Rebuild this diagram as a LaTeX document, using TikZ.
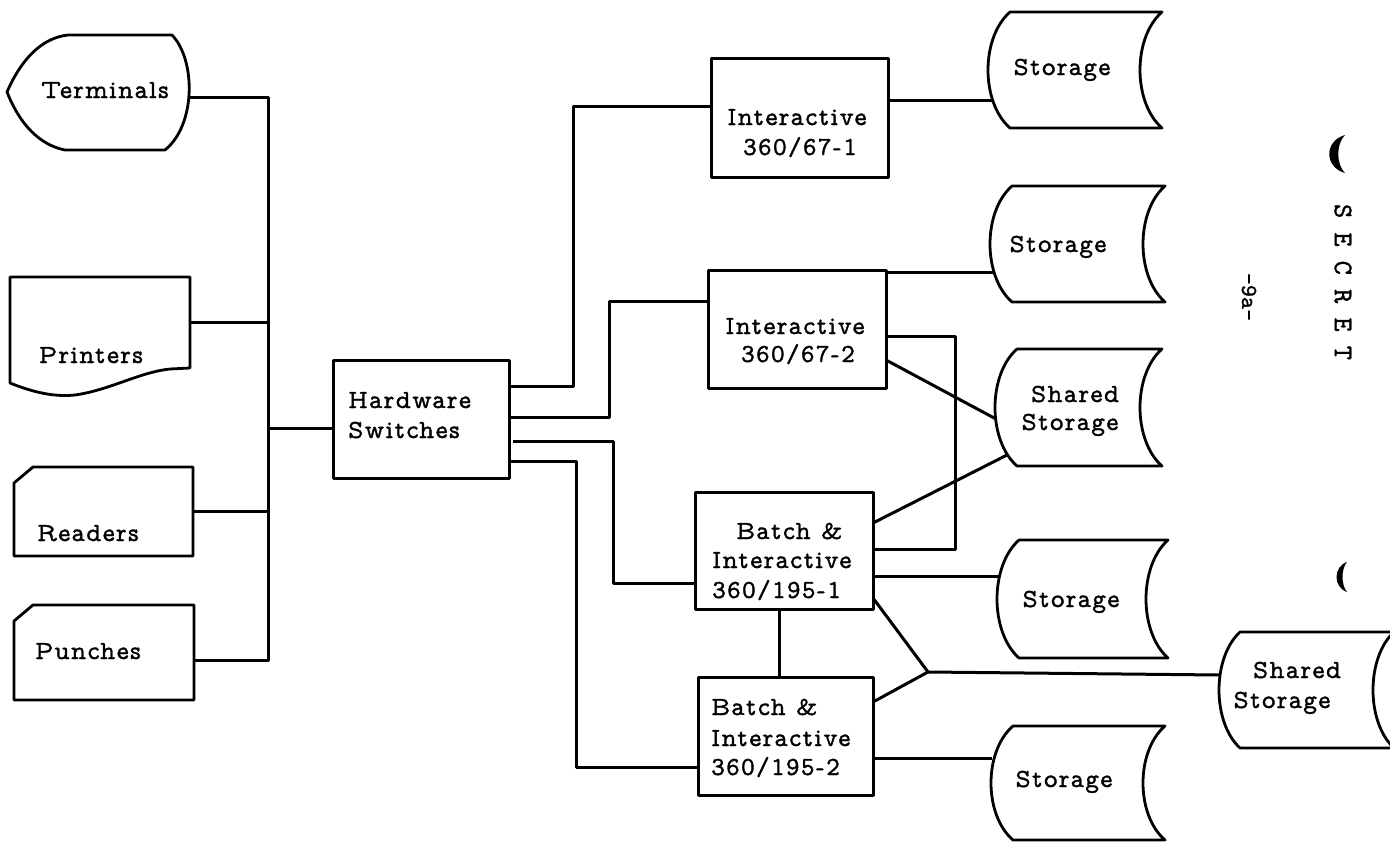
\documentclass[tikz,border=0pt]{standalone}
\usepackage{fontspec}
\newfontfamily\tw{lmmonoprop10-regular.otf}[FakeBold=1.3,LetterSpace=5]
\newfontfamily\tm{lmmono10-regular.otf}[FakeBold=1.3]
\newcommand\storshape[5]{%
  \draw[shp] ({#1+#5},#3) -- (#2,#3)
    .. controls ({#2-4*#5/3},{#3+0.22*(#4-#3)}) and ({#2-4*#5/3},{#4-0.22*(#4-#3)}) .. (#2,#4)
    -- ({#1+#5},#4)
    .. controls ({#1-#5/3},{#4-0.22*(#4-#3)}) and ({#1-#5/3},{#3+0.22*(#4-#3)}) .. cycle;}
\begin{document}
\begin{tikzpicture}[x=1pt,y=-1pt,line join=round,
  shp/.style={line width=2.8pt},
  ln/.style={line width=3pt},
  lbl/.style={font=\tw\fontsize{26}{31}\selectfont,inner sep=0pt,anchor=base},
  lblw/.style={lbl,anchor=base west},
  box/.style={draw,line width=3pt,inner sep=0pt}]
\useasboundingbox (0,0) rectangle (1390,844);
\fill[white] (0,0) rectangle (1390,844);

% ---------- left devices ----------
\draw[shp] (7,92) .. controls (20,62) and (40,38) .. (68,35) -- (172,35)
  .. controls (196,60) and (196,125) .. (165,150) -- (65,150)
  .. controls (40,145) and (20,125) .. cycle;
\node[lbl] (tTerm) at (105,98) {Terminals};

\draw[shp] (10,277) -- (190,277) -- (190,368) -- (170,369)
  .. controls (140,372) and (110,390) .. (75,395)
  .. controls (55,397) and (35,393) .. (10,383) -- cycle;
\node[lbl] (tPrn) at (91,363) {Printers};

\draw[shp] (14,483) -- (33,467) -- (193,467) -- (193,556) -- (14,556) -- cycle;
\node[lbl] (tRdr) at (88,541) {Readers};

\draw[shp] (14,621) -- (33,605) -- (194,605) -- (194,700) -- (14,700) -- cycle;
\node[lbl] (tPun) at (88,659) {Punches};

% ---------- boxes ----------
\node[box,minimum width=176pt,minimum height=118pt] (hw) at (421,419) {};
\node[lblw] (tHw1) at (348,408) {Hardware};
\node[lblw] (tHw2) at (348,438) {Switches};

\node[box,minimum width=177pt,minimum height=119pt] (int1) at (799.5,117.5) {};
\node[lbl] (tI1a) at (797,125) {Interactive};
\node[lbl] (tI1b) at (800,155) {360/67-1};

\node[box,minimum width=178pt,minimum height=118pt] (int2) at (797,329) {};
\node[lbl] (tI2a) at (795,334) {Interactive};
\node[lbl] (tI2b) at (798,362) {360/67-2};

\node[box,minimum width=178pt,minimum height=117pt] (b1) at (784,550.5) {};
\node[lblw] (tB1a) at (736,539) {Batch \&};
\node[lblw] (tB1b) at (712,568) {Interactive};
\node[lblw] (tB1c) at (712,598) {360/195-1};

\node[box,minimum width=175pt,minimum height=118pt] (b2) at (785.5,736) {};
\node[lblw] (tB2a) at (711,715) {Batch \&};
\node[lblw] (tB2b) at (711,746) {Interactive};
\node[lblw] (tB2c) at (711,775) {360/195-2};

% ---------- storage ----------
\storshape{988}{1162}{12}{128}{22}
\node[lbl] (tS1) at (1062,75) {Storage};
\storshape{990}{1165}{186}{302}{22}
\node[lbl] (tS2) at (1058,252) {Storage};
\storshape{995}{1162}{349}{466}{22}
\node[lbl] (tSh1a) at (1075,402) {Shared};
\node[lbl] (tSh1b) at (1070,430) {Storage};
\storshape{997}{1168}{540}{658}{22}
\node[lbl] (tS4) at (1071,607) {Storage};
\storshape{991}{1165}{726}{840}{22}
\node[lbl] (tS5) at (1064,787) {Storage};
\storshape{1219}{1394}{632}{748}{21}
\node[lbl] (tSh2a) at (1297,678) {Shared};
\node[lbl] (tSh2b) at (1282,708) {Storage};

% ---------- connection points ----------
\coordinate (termR) at (189,97);
\coordinate (busT) at (268,97);
\coordinate (prnR) at (190,322);
\coordinate (busP) at (268,322);
\coordinate (busH) at (268,428);
\coordinate (rdrR) at (194,511);
\coordinate (busR) at (268,511);
\coordinate (punR) at (194,660);
\coordinate (busB) at (268,660);
\coordinate (hwI) at (333,428);

\coordinate (h1) at (509,386); \coordinate (h1a) at (573,386); \coordinate (h1b) at (573,106); \coordinate (i1L) at (711,106);
\coordinate (h2) at (509,417); \coordinate (h2a) at (609,417); \coordinate (h2b) at (609,301); \coordinate (i2L) at (708,301);
\coordinate (h3) at (513,441); \coordinate (h3a) at (613,441); \coordinate (h3b) at (613,583); \coordinate (b1L) at (695,583);
\coordinate (h4) at (509,461); \coordinate (h4a) at (576,461); \coordinate (h4b) at (576,767); \coordinate (b2L) at (698,767);

\coordinate (i1R) at (888,100); \coordinate (s1L) at (993,100);
\coordinate (i2Ra) at (886,272); \coordinate (s2L) at (993,272);
\coordinate (i2Rb) at (886,336); \coordinate (vA) at (955,336); \coordinate (vB) at (955,549); \coordinate (b1Rb) at (873,549);
\coordinate (i2Rc) at (886,360); \coordinate (sh1La) at (996,419);
\coordinate (b1Ra) at (873,523); \coordinate (sh1Lb) at (1007,455);
\coordinate (b1Rc) at (873,576); \coordinate (s4L) at (999,576);
\coordinate (b1Rd) at (873,598); \coordinate (jn) at (928,672);
\coordinate (b1B) at (779,609); \coordinate (b2T) at (779,677);
\coordinate (b2Ra) at (873,702);
\coordinate (sh2L) at (1220,675);
\coordinate (b2Rb) at (873,758); \coordinate (s5L) at (992,758);

% ---------- connectors ----------
\draw[ln] (termR) -- (busT) -- (busB) -- (punR);
\draw[ln] (prnR) -- (busP);
\draw[ln] (rdrR) -- (busR);
\draw[ln] (busH) -- (hwI);

\draw[ln] (h1) -- (h1a) -- (h1b) -- (i1L);
\draw[ln] (h2) -- (h2a) -- (h2b) -- (i2L);
\draw[ln] (h3) -- (h3a) -- (h3b) -- (b1L);
\draw[ln] (h4) -- (h4a) -- (h4b) -- (b2L);

\draw[ln] (i1R) -- (s1L);
\draw[ln] (i2Ra) -- (s2L);
\draw[ln] (i2Rb) -- (vA) -- (vB) -- (b1Rb);
\draw[ln] (i2Rc) -- (sh1La);
\draw[ln] (b1Ra) -- (sh1Lb);
\draw[ln] (b1Rc) -- (s4L);
\draw[ln] (b1Rd) -- (jn) -- (b2Ra);
\draw[ln] (jn) -- (sh2L);
\draw[ln] (b1B) -- (b2T);
\draw[ln] (b2Rb) -- (s5L);

% ---------- margin marks ----------
\fill (1345,135) .. controls (1324,141) and (1324,167) .. (1345,173)
  .. controls (1336,164) and (1336,144) .. cycle;
\fill (1347,562) .. controls (1333,567) and (1333,587) .. (1347,592)
  .. controls (1341,585) and (1341,569) .. cycle;
\node[font=\tm\fontsize{27}{32}\selectfont,inner sep=0pt,rotate=-90] (secret) at (1343,282) {S E C R E T};
\node[font=\tm\fontsize{23}{28}\selectfont,inner sep=0pt,rotate=-90] (page) at (1249,297) {-9a-};
\end{tikzpicture}
\end{document}
